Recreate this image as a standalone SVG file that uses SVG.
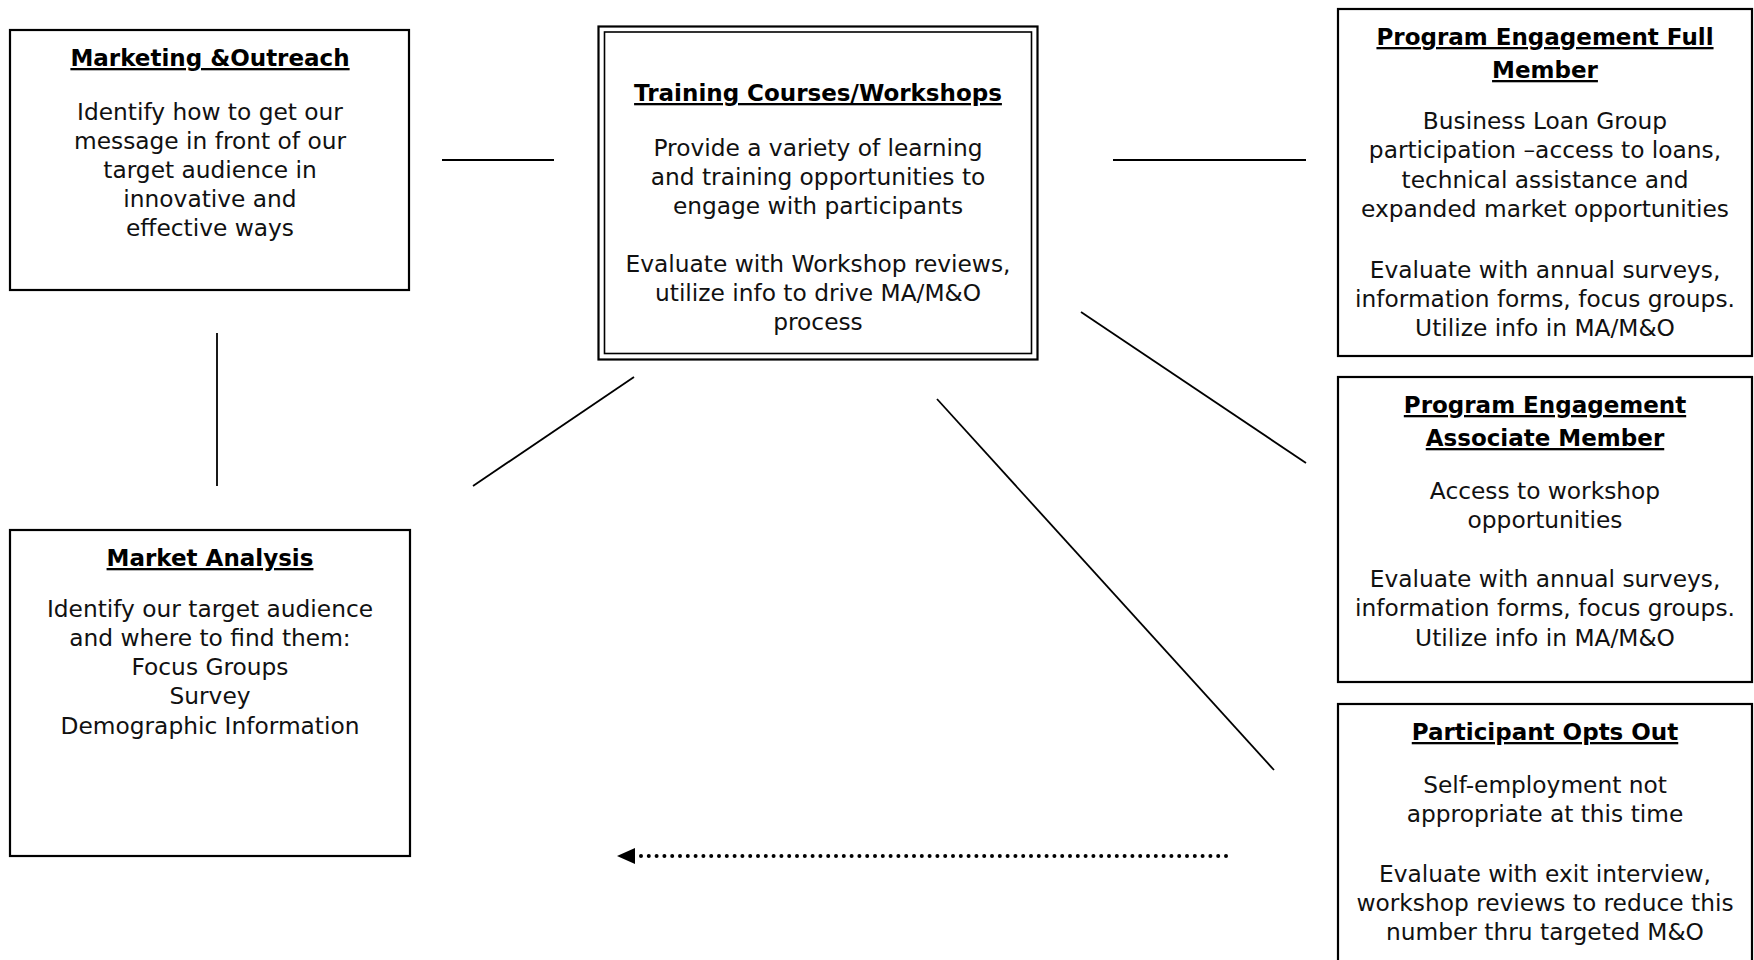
<svg xmlns="http://www.w3.org/2000/svg" width="1754" height="960" viewBox="0 0 1754 960">
<style>
.box{fill:#fff;stroke:#000;stroke-width:2.2}
.inner{fill:none;stroke:#000;stroke-width:1.6}
.t{font-family:"DejaVu Sans","Liberation Sans",sans-serif;font-size:23px;font-weight:bold;text-anchor:middle;text-decoration:underline;fill:#000}
.b{font-family:"DejaVu Sans","Liberation Sans",sans-serif;font-size:23.3px;text-anchor:middle;fill:#111}
.c{stroke:#000;stroke-width:1.8;fill:none}
.dot{stroke:#000;stroke-width:4;stroke-linecap:round;stroke-dasharray:0 7.8;fill:none}
</style>
<rect width="1754" height="960" fill="#fff"/>
<g id="connectors">
<line class="c" x1="442" y1="160" x2="554" y2="160"/>
<line class="c" x1="1113" y1="160" x2="1306" y2="160"/>
<line class="c" x1="217" y1="333" x2="217" y2="486"/>
<line class="c" x1="634" y1="377" x2="473" y2="486"/>
<line class="c" x1="1081" y1="312" x2="1306" y2="463"/>
<line class="c" x1="937" y1="399" x2="1274" y2="770"/>
<line class="dot" x1="1226" y1="856" x2="637" y2="856"/>
<polygon points="617,856 635,848 635,864" fill="#000"/>
</g>
<g id="marketing">
<rect class="box" x="10" y="30" width="399" height="260"/>
<text class="t" x="210" y="66">Marketing &amp;Outreach</text>
<text class="b" x="210" y="120">Identify how to get our</text>
<text class="b" x="210" y="149">message in front of our</text>
<text class="b" x="210" y="178">target audience in</text>
<text class="b" x="210" y="207">innovative and</text>
<text class="b" x="210" y="236">effective ways</text>
</g>
<g id="training">
<rect class="box" x="598.5" y="26.5" width="439" height="333" stroke-width="2.6"/>
<rect class="inner" x="604.5" y="32" width="427" height="321.5"/>
<text class="t" x="818" y="101">Training Courses/Workshops</text>
<text class="b" x="818" y="156">Provide a variety of learning</text>
<text class="b" x="818" y="185">and training opportunities to</text>
<text class="b" x="818" y="214">engage with participants</text>
<text class="b" x="818" y="272">Evaluate with Workshop reviews,</text>
<text class="b" x="818" y="301">utilize info to drive MA/M&amp;O</text>
<text class="b" x="818" y="330">process</text>
</g>
<g id="full-member">
<rect class="box" x="1338" y="9" width="414" height="347"/>
<text class="t" x="1545" y="45">Program Engagement Full</text>
<text class="t" x="1545" y="78">Member</text>
<text class="b" x="1545" y="129">Business Loan Group</text>
<text class="b" x="1545" y="158">participation –access to loans,</text>
<text class="b" x="1545" y="188">technical assistance and</text>
<text class="b" x="1545" y="217">expanded market opportunities</text>
<text class="b" x="1545" y="278">Evaluate with annual surveys,</text>
<text class="b" x="1545" y="307">information forms, focus groups.</text>
<text class="b" x="1545" y="336">Utilize info in MA/M&amp;O</text>
</g>
<g id="associate-member">
<rect class="box" x="1338" y="377" width="414" height="305"/>
<text class="t" x="1545" y="413">Program Engagement</text>
<text class="t" x="1545" y="446">Associate Member</text>
<text class="b" x="1545" y="499">Access to workshop</text>
<text class="b" x="1545" y="528">opportunities</text>
<text class="b" x="1545" y="587">Evaluate with annual surveys,</text>
<text class="b" x="1545" y="616">information forms, focus groups.</text>
<text class="b" x="1545" y="646">Utilize info in MA/M&amp;O</text>
</g>
<g id="opts-out">
<rect class="box" x="1338" y="704" width="414" height="280"/>
<text class="t" x="1545" y="740">Participant Opts Out</text>
<text class="b" x="1545" y="793">Self-employment not</text>
<text class="b" x="1545" y="822">appropriate at this time</text>
<text class="b" x="1545" y="882">Evaluate with exit interview,</text>
<text class="b" x="1545" y="911">workshop reviews to reduce this</text>
<text class="b" x="1545" y="940">number thru targeted M&amp;O</text>
</g>
<g id="market-analysis">
<rect class="box" x="10" y="530" width="400" height="326"/>
<text class="t" x="210" y="566">Market Analysis</text>
<text class="b" x="210" y="617">Identify our target audience</text>
<text class="b" x="210" y="646">and where to find them:</text>
<text class="b" x="210" y="675">Focus Groups</text>
<text class="b" x="210" y="704">Survey</text>
<text class="b" x="210" y="734">Demographic Information</text>
</g>
</svg>
